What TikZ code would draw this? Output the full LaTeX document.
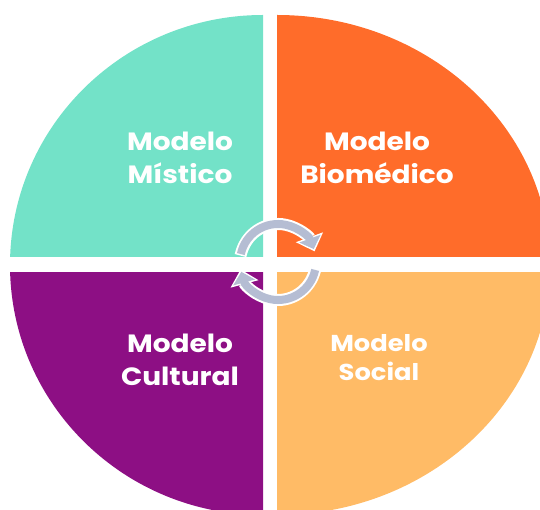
\documentclass[tikz,border=0pt]{standalone}
\usepackage{fontspec}
\setmainfont{Poppins}[FakeStretch=1.12]
\usetikzlibrary{arrows.meta,calc}
\definecolor{cteal}{HTML}{73E2C8}
\definecolor{corange}{HTML}{FF6C2A}
\definecolor{cpurple}{HTML}{8D0F84}
\definecolor{clight}{HTML}{FFBB66}
\definecolor{carrow}{HTML}{B5BDD3}
\begin{document}
\begin{tikzpicture}[x=1pt,y=1pt,
  lbl/.style={text=white,font=\bfseries\fontsize{25}{33}\selectfont,align=center},
  arrw/.style={line width=12pt, white, shorten >=-2.5pt, shorten <=-1.5pt, -{Triangle[length=15pt,width=28pt]}},
  arrc/.style={line width=8pt, carrow, -{Triangle[length=11pt,width=22pt]}}]
\useasboundingbox (0,0) rectangle (540,509);
% quadrants
\begin{scope}
  \clip (0,252) rectangle (263,509);
  \fill[cteal] (263,244) ellipse [x radius=253, y radius=250];
\end{scope}
\begin{scope}
  \clip (277,252) rectangle (540,509);
  \fill[corange] (277,244) ellipse [x radius=273, y radius=250];
\end{scope}
\begin{scope}
  \clip (0,0) rectangle (263,236);
  \fill[cpurple] (263,244) ellipse [x radius=253, y radius=250];
\end{scope}
\begin{scope}
  \clip (277,0) rectangle (540,236);
  \fill[clight] (277,244) ellipse [x radius=273, y radius=250];
\end{scope}
% labels
\node[lbl] (mistico) at (180,351) {Modelo\\Místico};
\node[lbl] (biomedico) at (377,351) {Modelo\\Biomédico};
\node[lbl] (cultural) at (180,149) {Modelo\\Cultural};
\node[lbl,font=\bfseries\fontsize{23}{29}\selectfont] (social) at (379,151) {Modelo\\Social};
% circular arrows
\coordinate (c) at (278,247);
\coordinate (a1) at ($(c)+(168:38)$);
\coordinate (a2) at ($(c)+(-12:38)$);
\draw[arrw] (a1) arc[start angle=168, end angle=20, radius=38];
\draw[arrc] (a1) arc[start angle=168, end angle=20, radius=38];
\draw[arrw] (a2) arc[start angle=-12, end angle=-165, radius=38];
\draw[arrc] (a2) arc[start angle=-12, end angle=-165, radius=38];
\end{tikzpicture}
\end{document}
